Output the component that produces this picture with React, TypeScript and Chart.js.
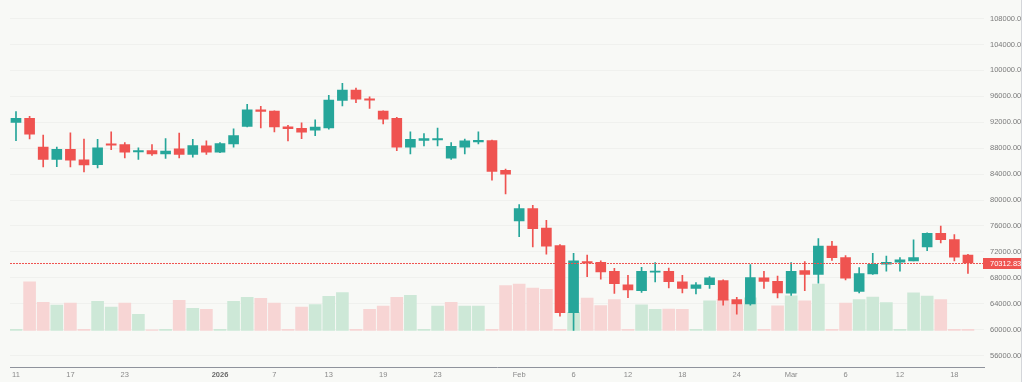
import { useEffect, useRef } from "react";
import { Chart, registerables } from "chart.js";
Chart.register(...registerables);

const dates = [
  "2025-12-11","2025-12-12","2025-12-15","2025-12-16","2025-12-17","2025-12-18","2025-12-19","2025-12-22","2025-12-23","2025-12-24",
  "2025-12-25","2025-12-26","2025-12-29","2025-12-30","2025-12-31","2026-01-01","2026-01-02","2026-01-05","2026-01-06","2026-01-07",
  "2026-01-08","2026-01-09","2026-01-12","2026-01-13","2026-01-14","2026-01-15","2026-01-16","2026-01-19","2026-01-20","2026-01-21",
  "2026-01-22","2026-01-23","2026-01-26","2026-01-27","2026-01-28","2026-01-29","2026-01-30","2026-02-02","2026-02-03","2026-02-04",
  "2026-02-05","2026-02-06","2026-02-09","2026-02-10","2026-02-11","2026-02-12","2026-02-13","2026-02-16","2026-02-17","2026-02-18",
  "2026-02-19","2026-02-20","2026-02-23","2026-02-24","2026-02-25","2026-02-26","2026-02-27","2026-03-02","2026-03-03","2026-03-04",
  "2026-03-05","2026-03-06","2026-03-09","2026-03-10","2026-03-11","2026-03-12","2026-03-13","2026-03-16","2026-03-17","2026-03-18",
  "2026-03-19"
];

const opens = [
  91960, 92610, 88160, 86280, 87820, 86220, 85470, 88670, 88570, 87410,
  87620, 87120, 87920, 87030, 88370, 87370, 88670, 91370, 93920, 93710,
  91310, 91070, 90770, 91120, 95360, 96960, 95620, 93710, 92610, 88160,
  89210, 89260, 86470, 88160, 88970, 89170, 84580, 76790, 78690, 75680,
  72980, 62640, 70510, 70400, 69010, 66940, 66040, 68860, 69010, 67390,
  66380, 66940, 67590, 64630, 63990, 67990, 67480, 65630, 69110, 68510,
  72900, 71110, 65890, 68600, 70100, 70400, 70600, 72780, 74880, 73920,
  71510
];
const highs = [
  93660, 92910, 90020, 88160, 90370, 89420, 89360, 90520, 88870, 88070,
  88570, 89470, 90320, 89360, 89120, 88870, 90970, 94760, 94460, 93770,
  91520, 91910, 92360, 96160, 98000, 97260, 95910, 93770, 92760, 90520,
  90260, 91120, 88870, 89420, 90520, 89240, 84790, 79290, 79170, 76870,
  73130, 71780, 71510, 70610, 69460, 68400, 69610, 70370, 69500, 68400,
  67280, 68190, 67700, 64990, 70030, 69010, 68280, 70370, 70510, 74070,
  73620, 71430, 69580, 71780, 71370, 71110, 73880, 74930, 75980, 74670,
  71630
];
const lows = [
  89160, 89420, 85120, 85170, 85120, 84330, 84970, 87770, 86520, 86280,
  86880, 86430, 86520, 86620, 87030, 87300, 88160, 91300, 91120, 90520,
  89120, 89470, 89920, 90920, 94510, 95010, 94150, 91760, 87620, 87120,
  88370, 88370, 86280, 87120, 88670, 83070, 80940, 74370, 72780, 71670,
  62090, 59890, 68190, 67780, 65590, 64930, 65740, 67360, 66430, 65680,
  65530, 66380, 63790, 62380, 63790, 66380, 64890, 65290, 66040, 67180,
  70690, 67690, 65680, 68510, 69010, 69040, 70600, 72180, 73380, 70610,
  68680
];
const closes = [
  92610, 90170, 86280, 87820, 86170, 85420, 88070, 88460, 87370, 87620,
  87120, 87560, 87030, 88420, 87370, 88720, 89960, 93920, 93660, 91270,
  91010, 90470, 91270, 95410, 96960, 95560, 95410, 92470, 88160, 89360,
  89470, 89470, 88270, 89120, 89210, 84420, 83980, 78690, 75570, 72870,
  62640, 70630, 70250, 68900, 67120, 66130, 69010, 69050, 67390, 66380,
  66940, 67990, 64550, 63990, 68030, 67430, 65680, 69010, 68510, 72900,
  71110, 67930, 68660, 70100, 70400, 70760, 71140, 74880, 73880, 71180,
  70312.83
];
const volumes = [
  1000, 50000, 29000, 26000, 28000, 1000, 30000, 24000, 28000, 16600,
  500, 1000, 31000, 22600, 21600, 1000, 30000, 34000, 33000, 28000,
  1000, 24000, 26600, 35000, 39000, 1000, 21600, 25000, 34000, 36000,
  1000, 25000, 29000, 25000, 25000, 1000, 46000, 47600, 43600, 42300,
  1000, 18600, 33300, 25600, 31600, 1000, 26300, 21600, 22000, 21600,
  1000, 30300, 32000, 26600, 33600, 1000, 25300, 35600, 30300, 47600,
  1000, 28000, 31600, 34300, 28600, 1000, 38600, 35300, 31600, 1000,
  1000
];
const volumeUp = [
  1, 0, 0, 1, 0, 0, 1, 1, 0, 1,
  0, 1, 0, 1, 0, 1, 1, 1, 0, 0,
  0, 0, 1, 1, 1, 0, 0, 0, 0, 1,
  1, 1, 0, 1, 1, 0, 0, 0, 0, 0,
  0, 1, 0, 0, 0, 0, 1, 1, 0, 0,
  1, 1, 0, 0, 1, 0, 0, 1, 0, 1,
  0, 0, 1, 1, 1, 1, 1, 1, 0, 0,
  0
];
const xTickIndex = [0, 4, 8, 15, 19, 23, 27, 31, 37, 41, 45, 49, 53, 57, 61, 65, 69];
const xTickLabels = ["11", "17", "23", "2026", "7", "13", "19", "23", "Feb", "6", "12", "18", "24", "Mar", "6", "12", "18"];
const priceTicks = [56000, 60000, 64000, 68000, 72000, 76000, 80000, 84000, 88000, 92000, 96000, 100000, 104000, 108000];

const UP = "#26a69a";
const DOWN = "#ef5350";
const VOL_UP = "#cde8d7";
const VOL_DOWN = "#f7d5d4";
const BG = "#f8f9f6";
const FONT = "'Liberation Sans', Arial, sans-serif";

export default function App() {
  const ref = useRef<HTMLCanvasElement | null>(null);
  useEffect(() => {
    if (!ref.current) return;
    const n = opens.length;
    const idx = Array.from({ length: n }, (_, i) => i);
    const isUp = idx.map((i) => closes[i] >= opens[i]);
    const candleColors = isUp.map((u) => (u ? UP : DOWN));
    const lastPrice = closes[n - 1];

    const bgPlugin = {
      id: "bg",
      beforeDraw(chart: any) {
        const c = chart.ctx;
        c.save();
        c.fillStyle = BG;
        c.fillRect(0, 0, chart.width, chart.height);
        c.restore();
      },
    };
    const lastPricePlugin = {
      id: "lastPrice",
      afterDatasetsDraw(chart: any) {
        const { ctx, chartArea } = chart;
        const y = Math.round(chart.scales.y.getPixelForValue(lastPrice));
        ctx.save();
        ctx.fillStyle = DOWN;
        for (let x = Math.round(chartArea.left); x < chartArea.right; x += 3) {
          ctx.fillRect(x, y, 2, 1);
        }
        ctx.restore();
      },
      afterDraw(chart: any) {
        const { ctx, chartArea } = chart;
        const y = chart.scales.y.getPixelForValue(lastPrice);
        ctx.save();
        ctx.fillStyle = DOWN;
        ctx.fillRect(chartArea.right - 1, Math.round(y) - 5, 40, 11);
        ctx.fillStyle = "#ffffff";
        ctx.font = "7.5px " + FONT;
        ctx.textBaseline = "middle";
        ctx.textAlign = "left";
        ctx.fillText(lastPrice.toFixed(2), chartArea.right + 6, Math.round(y) + 0.5);
        ctx.fillStyle = "#ffffff";
        ctx.fillRect(1021, 0, 3, chart.height);
        ctx.strokeStyle = "#d4d6da";
        ctx.lineWidth = 1;
        ctx.beginPath();
        ctx.moveTo(1021.5, 0);
        ctx.lineTo(1021.5, chart.height);
        ctx.stroke();
        ctx.restore();
      },
    };

    const chart = new Chart(ref.current, {
      type: "bar",
      data: {
        datasets: [
          {
            label: "Body",
            data: idx.map((i) => ({ x: i, y: [opens[i], closes[i]] })) as any,
            backgroundColor: candleColors,
            borderWidth: 0,
            barThickness: 10,
            grouped: false,
            yAxisID: "y",
            order: 0,
          },
          {
            label: "Wick",
            data: idx.map((i) => ({ x: i, y: [lows[i], highs[i]] })) as any,
            backgroundColor: candleColors,
            borderWidth: 0,
            barThickness: 1,
            grouped: false,
            yAxisID: "y",
            order: 1,
          },
          {
            label: "Volume",
            data: idx.map((i) => ({ x: i, y: volumes[i] })) as any,
            backgroundColor: volumeUp.map((u) => (u ? VOL_UP : VOL_DOWN)),
            borderWidth: 0,
            barThickness: 12,
            grouped: false,
            yAxisID: "vol",
            order: 2,
          },
        ],
      },
      options: {
        animation: false,
        responsive: false,
        devicePixelRatio: 1,
        layout: { padding: { left: 10, top: 0, right: 0, bottom: 0 } },
        plugins: { legend: { display: false }, tooltip: { enabled: false } },
        scales: {
          x: {
            type: "linear",
            position: "bottom",
            min: -0.441,
            max: 71.18,
            offset: false,
            grid: { display: false, drawTicks: false },
            border: { display: true, color: "#8f939c", width: 1 },
            afterBuildTicks: (scale: any) => {
              scale.ticks = xTickIndex.map((v) => ({ value: v }));
            },
            afterFit: (scale: any) => {
              scale.height = 15;
            },
            ticks: {
              autoSkip: false,
              maxRotation: 0,
              padding: 3,
              font: (ctx: any) => ({ family: FONT, size: 7.5, weight: xTickLabels[ctx.index] === "2026" ? "bold" : "normal" }),
              color: (ctx: any) => (xTickLabels[ctx.index] === "2026" ? "#6a6a6a" : "#8a8a8a"),
              callback: (_v: any, i: number) => xTickLabels[i],
            },
          },
          y: {
            type: "linear",
            position: "right",
            min: 54245,
            max: 109244,
            grid: { color: "rgba(0,0,0,0.03)", drawTicks: false },
            border: { display: false },
            afterBuildTicks: (scale: any) => {
              scale.ticks = priceTicks.map((v) => ({ value: v }));
            },
            afterFit: (scale: any) => {
              scale.width = 40;
            },
            ticks: {
              padding: 6,
              font: { family: FONT, size: 7.5 },
              color: "#7a7a7a",
              callback: (v: any) => Number(v).toFixed(2),
            },
          },
          vol: {
            type: "linear",
            display: false,
            min: -37700,
            max: 329300,
          },
        },
      },
      plugins: [bgPlugin, lastPricePlugin],
    } as any);
    return () => chart.destroy();
  }, []);

  return (
    <div style={{ position: "fixed", left: 0, top: 0, width: 1024, height: 382, background: BG }}>
      <canvas ref={ref} width={1024} height={382} data-dates={dates.length} />
    </div>
  );
}
